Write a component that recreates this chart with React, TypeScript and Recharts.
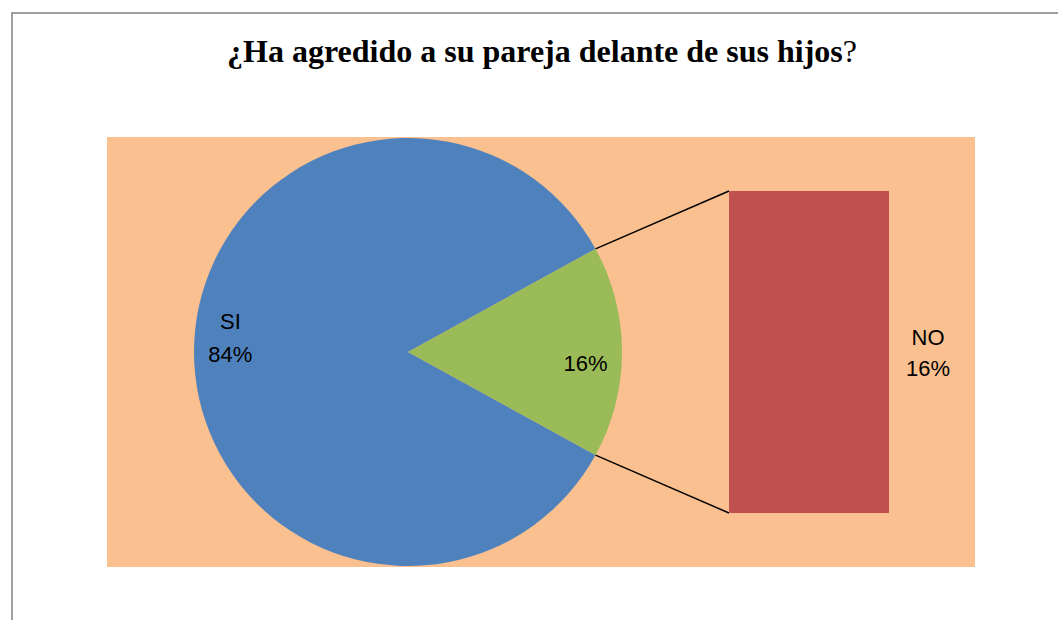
import React from 'react';
import { PieChart, Pie, Cell, BarChart, Bar, XAxis, YAxis, LabelList, Customized } from 'recharts';

const categories = ['SI', 'NO'];
const values = [84, 16];
const percentLabels = ['84%', '16%'];
const colors = ['#4F81BD', '#9BBB59'];
const barColor = '#C0504D';
const title = '¿Ha agredido a su pareja delante de sus hijos';

const pieData = categories.map((name, i) => ({ name, value: values[i], label: percentLabels[i] }));
const barData = [{ name: categories[1], value: values[1], label: percentLabels[1] }];

const W = 1058;
const H = 620;
const CX = 408;
const CY = 352;
const R = 214;
const BAR_LEFT = 729;
const BAR_TOP = 191;
const BAR_W = 160;
const BAR_H = 322;
const total = values.reduce((a, b) => a + b, 0);
const half = (360 * values[1]) / total / 2;
const FONT = '"Liberation Sans", Arial, sans-serif';

const renderPieLabel = (props: any) => {
  const { cx, cy, midAngle, outerRadius, index } = props;
  const rad = (-midAngle * Math.PI) / 180;
  const x = cx + outerRadius * 0.83 * Math.cos(rad);
  const y = cy + outerRadius * 0.83 * Math.sin(rad);
  const d = pieData[index];
  if (index === 0) {
    return (
      <g>
        <text x={x} y={y - 31} textAnchor="middle" dominantBaseline="central" fontFamily={FONT} fontSize={22} fill="#000">{d.name}</text>
        <text x={x} y={y + 2} textAnchor="middle" dominantBaseline="central" fontFamily={FONT} fontSize={22} fill="#000">{d.label}</text>
      </g>
    );
  }
  return (
    <text x={x} y={y + 11} textAnchor="middle" dominantBaseline="central" fontFamily={FONT} fontSize={22} fill="#000">{d.label}</text>
  );
};

const Connectors = () => {
  const a = (half * Math.PI) / 180;
  const px = CX + R * Math.cos(a);
  const pyTop = CY - R * Math.sin(a);
  const pyBot = CY + R * Math.sin(a);
  return (
    <g>
      <line x1={px} y1={pyTop} x2={BAR_LEFT} y2={BAR_TOP} stroke="#000" strokeWidth={1.5} />
      <line x1={px} y1={pyBot} x2={BAR_LEFT} y2={BAR_TOP + BAR_H} stroke="#000" strokeWidth={1.5} />
    </g>
  );
};

const BarSideLabel = (props: any) => {
  const { x, y, width, height } = props;
  const tx = x + width + 39;
  const ty = y + height / 2;
  return (
    <g>
      <text x={tx} y={ty - 15} textAnchor="middle" dominantBaseline="central" fontFamily={FONT} fontSize={22} fill="#000">{barData[0].name}</text>
      <text x={tx} y={ty + 16} textAnchor="middle" dominantBaseline="central" fontFamily={FONT} fontSize={22} fill="#000">{barData[0].label}</text>
    </g>
  );
};

export default function App() {
  return (
    <div style={{ position: 'absolute', left: 0, top: 0, width: W, height: H, overflow: 'hidden', background: '#fff' }}>
      <div style={{ position: 'absolute', left: 11, top: 12, width: W + 20, height: H + 20, borderLeft: '2px solid #a0a0a0', borderTop: '2px solid #a0a0a0' }} />
      <div style={{ position: 'absolute', left: 42, top: 34, width: 1000, textAlign: 'center', fontFamily: '"Liberation Serif", "Times New Roman", serif', fontSize: 32, fontWeight: 'bold', color: '#000', lineHeight: '34px', whiteSpace: 'nowrap' }}>
        {title}<span style={{ fontWeight: 'normal' }}>?</span>
      </div>
      <div style={{ position: 'absolute', left: 107, top: 137, width: 868, height: 430, background: '#FAC090' }} />
      <div style={{ position: 'absolute', left: 0, top: 0 }}>
        <PieChart width={W} height={H} margin={{ top: 0, right: 0, bottom: 0, left: 0 }}>
          <Pie
            data={pieData}
            dataKey="value"
            nameKey="name"
            cx={CX}
            cy={CY}
            outerRadius={R}
            startAngle={half}
            endAngle={half + 360}
            stroke="none"
            label={renderPieLabel}
            labelLine={false}
            isAnimationActive={false}
          >
            {pieData.map((d, i) => (
              <Cell key={d.name} fill={colors[i]} />
            ))}
          </Pie>
          <Customized component={Connectors} />
        </PieChart>
      </div>
      <div style={{ position: 'absolute', left: BAR_LEFT, top: BAR_TOP }}>
        <BarChart width={BAR_W + 100} height={BAR_H} data={barData} margin={{ top: 0, right: 100, bottom: 0, left: 0 }} barCategoryGap={0}>
          <XAxis dataKey="name" hide />
          <YAxis hide domain={[0, values[1]]} />
          <Bar dataKey="value" fill={barColor} isAnimationActive={false}>
            <LabelList dataKey="value" content={BarSideLabel} />
          </Bar>
        </BarChart>
      </div>
    </div>
  );
}
